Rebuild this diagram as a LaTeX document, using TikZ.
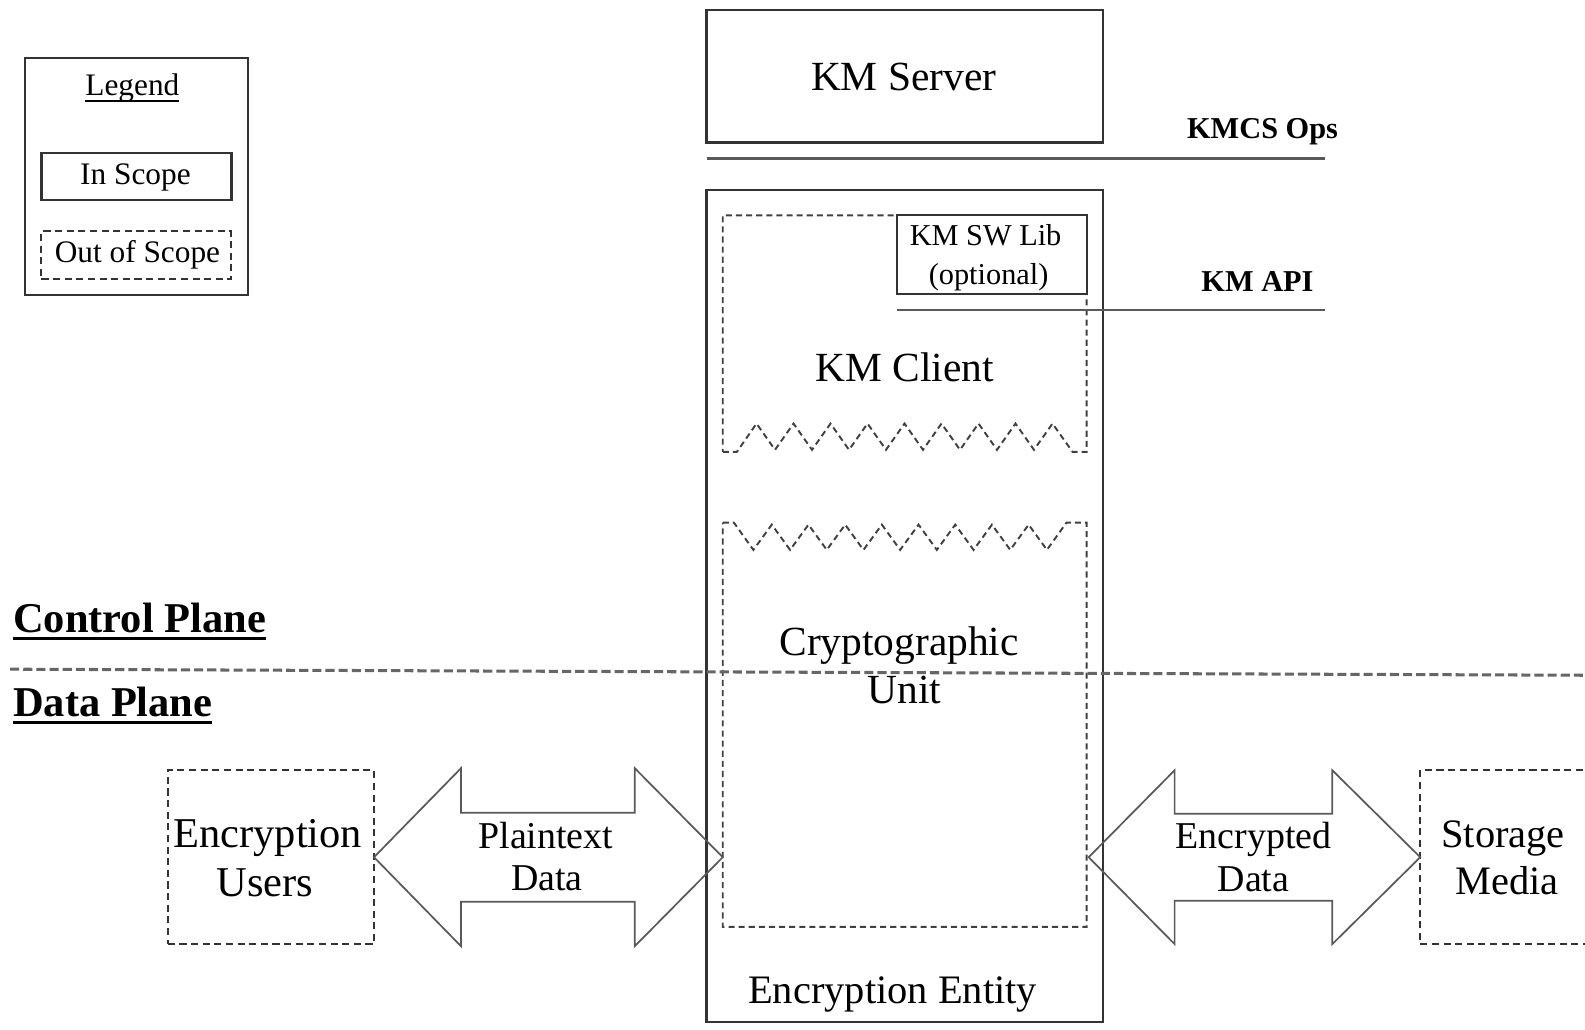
\documentclass[tikz,border=0pt]{standalone}
\usepackage{fontspec}
\setmainfont{Liberation Serif}
\usetikzlibrary{calc}
\begin{document}
\begin{tikzpicture}[x=1pt,y=-1pt,
  solidbox/.style={draw=black!80, line width=2.2pt, inner sep=0pt, outer sep=0pt},
  dashbox/.style={draw=black!80, line width=2pt, dash pattern=on 7pt off 4.5pt, inner sep=0pt, outer sep=0pt},
  zigbox/.style={draw=black!75, line width=1.9pt, dash pattern=on 6pt off 4pt, line join=miter},
  blockarrow/.style={draw=black!65, line width=1.7pt, line join=miter},
  sepline/.style={draw=black!65, line width=3pt},
  planeline/.style={draw=black!60, line width=3pt, dash pattern=on 9pt off 4pt},
  txt/.style={inner sep=0pt, outer sep=0pt, anchor=base, text=black},
  f41/.style={font=\fontsize{41}{49}\selectfont},
  f40/.style={font=\fontsize{40}{48}\selectfont},
  f37/.style={font=\fontsize{37.5}{45}\selectfont},
  f31/.style={font=\fontsize{31}{37}\selectfont},
  f30/.style={font=\fontsize{30}{36}\selectfont},
  b30/.style={font=\fontsize{30}{36}\selectfont\bfseries},
  b42/.style={font=\fontsize{42}{50}\selectfont\bfseries}
]
\useasboundingbox (0,0) rectangle (1568,1018);

% Legend
\node[solidbox, minimum width=220pt, minimum height=235pt] (legend) at (135,174.5) {};
\node[txt, f31] (legendt) at (131,94) {Legend};
\draw[line width=1.5pt] ([yshift=-6pt]legendt.base west) -- ([yshift=-6pt]legendt.base east);
\node[solidbox, minimum width=188pt, minimum height=47pt] (inbox) at (135,174.5) {};
\node[txt, f31] (intext) at (134,183) {In Scope};
\node[dashbox, minimum width=188pt, minimum height=47pt] (outbox) at (135,252.5) {};
\node[txt, f31] (outtext) at (136,260) {Out of Scope};

% KM Server
\node[solidbox, minimum width=392pt, minimum height=131pt] (server) at (895,75.5) {};
\node[txt, f41] (servert) at (894,89.5) {KM Server};
\node[txt, b30] (kmcs) at (1249,137) {KMCS Ops};
\coordinate (kmcsend) at (1311,156.5);
\draw[sepline] (server.west |- kmcsend) -- (kmcsend);

% Encryption Entity
\node[solidbox, minimum width=392pt, minimum height=823pt] (entity) at (895,599.5) {};
\node[txt, f40] (entityt) at (883,992.5) {Encryption Entity};

% KM Client (dashed, zigzag bottom)
\draw[zigbox] (715,447) -- (729,447)
  \foreach \k in {0,...,7} { -- ({748.4+36.6*\k},419) -- ({766.7+36.6*\k},445) }
  -- (1041.2,419) -- (1061,447) -- (1075,447) -- (1075,213) -- (715,213) -- cycle;
\coordinate (client) at (895,330);
\node[txt, f41] (clientt) at (895,377.5) {KM Client};

% KM SW Lib
\node[solidbox, fill=white, minimum width=188pt, minimum height=78pt] (lib) at (981,252) {};
\node[txt, f30] (libt1) at (975,243) {KM SW Lib};
\node[txt, f30] (libt2) at (978,281) {(optional)};
\node[txt, b30] (kmapi) at (1244,288) {KM API};
\coordinate (apiend) at (1311,307);
\draw[sepline, line width=2.2pt] (lib.west |- apiend) -- (apiend);

% Cryptographic Unit (dashed, zigzag top)
\draw[zigbox] (715,517) -- (726,517)
  \foreach \k in {0,...,7} { -- ({745.3+36.3*\k},544) -- ({763.5+36.3*\k},519) }
  -- (1035.7,544) -- (1055,517) -- (1075,517) -- (1075,917) -- (715,917) -- cycle;
\node[inner sep=0pt, outer sep=0pt, minimum width=360pt, minimum height=400pt] (crypto) at (895,717) {};
\node[txt, f41] (cryptot1) at (889.5,648) {Cryptographic};
\node[txt, f41] (cryptot2) at (894.5,695.5) {Unit};

% Planes
\node[txt, b42, anchor=base west] (cp) at (13,626) {Control Plane};
\draw[line width=3pt] ([yshift=-5.5pt]cp.base west) -- ([yshift=-5.5pt]cp.base east);
\node[txt, b42, anchor=base west] (dp) at (13,709) {Data Plane};
\draw[line width=3pt] ([yshift=-5.5pt]dp.base west) -- ([yshift=-5.5pt]dp.base east);
\coordinate (pl1) at (10,662);
\coordinate (pl2) at (1568,668);
\draw[planeline] (pl1) -- (pl2);

% Encryption Users
\node[dashbox, minimum width=204pt, minimum height=172pt] (users) at (268,848) {};
\node[txt, font=\fontsize{42}{50}\selectfont] (userst1) at (265,838) {Encryption};
\node[txt, font=\fontsize{42}{50}\selectfont] (userst2) at (262,887) {Users};

% Storage Media
\node[dashbox, minimum width=190pt, minimum height=172pt] (storage) at (1500,848) {};
\node[txt, f40] (storaget1) at (1487,838) {Storage};
\node[txt, f40] (storaget2) at (1491,885) {Media};

% Plaintext arrow
\coordinate (la) at (users.east);
\coordinate (lb) at (crypto.west |- users.east);
\draw[blockarrow] (la) -- ($(la)+(86,-88)$) -- ($(la)+(86,-44)$) -- ($(lb)+(-87,-44)$)
  -- ($(lb)+(-87,-88)$) -- (lb) -- ($(lb)+(-87,88)$) -- ($(lb)+(-87,44)$)
  -- ($(la)+(86,44)$) -- ($(la)+(86,88)$) -- cycle;
\node[txt, f37] (plain1) at (540,839) {Plaintext};
\node[txt, f37] (plain2) at (541,881) {Data};

% Encrypted arrow
\coordinate (ra) at ($(crypto.east |- storage.west)+(2,0)$);
\coordinate (rb) at (storage.west);
\draw[blockarrow] (ra) -- ($(ra)+(85,-86)$) -- ($(ra)+(85,-43)$) -- ($(rb)+(-87,-43)$)
  -- ($(rb)+(-87,-86)$) -- (rb) -- ($(rb)+(-87,86)$) -- ($(rb)+(-87,43)$)
  -- ($(ra)+(85,43)$) -- ($(ra)+(85,86)$) -- cycle;
\node[txt, f37] (enc1) at (1240,839) {Encrypted};
\node[txt, f37] (enc2) at (1240,882) {Data};
\end{tikzpicture}
\end{document}
